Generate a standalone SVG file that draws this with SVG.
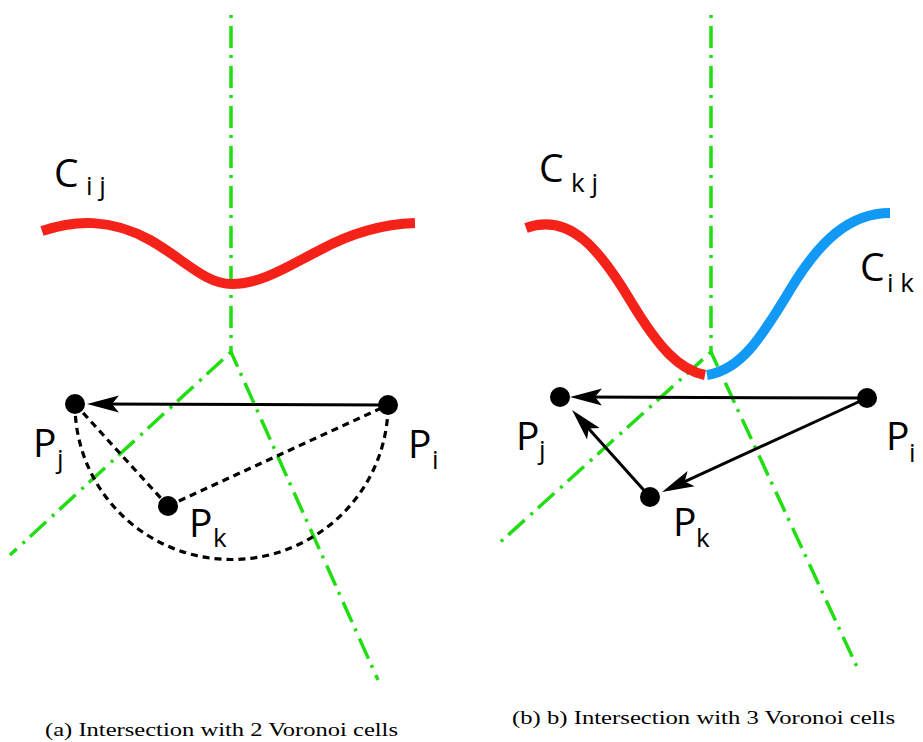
<svg xmlns="http://www.w3.org/2000/svg" width="923" height="742" viewBox="0 0 923 742">
<defs>
<style>
.bg{fill:#ffffff}
.vor{fill:none;stroke:#22dd11;stroke-width:3.5;stroke-dasharray:3 8 22 7}
.red{fill:none;stroke:#f5221a;stroke-width:10}
.blue{fill:none;stroke:#1199f5;stroke-width:10}
.arr{fill:none;stroke:#000;stroke-width:3;marker-end:url(#ah)}
.dsh{fill:none;stroke:#000;stroke-width:3.2;stroke-dasharray:7 5}
.pt{fill:#000}
.lbl{font-family:"Open Sans","DejaVu Sans",sans-serif;font-size:39px;fill:#000}
.sub{font-family:"Open Sans","DejaVu Sans",sans-serif;font-size:26px;fill:#000}
.cap{font-family:"Liberation Serif","DejaVu Serif",serif;font-size:18px;fill:#000}
</style>
<marker id="ah" markerUnits="userSpaceOnUse" markerWidth="40" markerHeight="20" refX="0" refY="0" viewBox="-24 -10 36 20" orient="auto" overflow="visible">
<path d="M10,0 L-22,-8.5 L-15,0 L-22,8.5 Z" fill="#000"/>
</marker>
</defs>
<rect class="bg" x="0" y="0" width="923" height="742"/>

<g id="voronoi-a">
<path class="vor" d="M231,15 V352 L378,680"/>
<path class="vor" d="M231,352 L10,555"/>
</g>
<g id="curve-cij">
<path class="red" d="M42,231 C75,220 110,218 150,240 C185,260 205,284 232,284 C262,284 290,265 320,250 C355,231 385,224 415,223"/>
</g>

<g id="connectors-a">
<path class="dsh" d="M75,404 L168,506"/>
<path class="dsh" d="M168,506 L388,405"/>
<path class="dsh" d="M75,404 A156.5,155 0 0 0 388,405"/>
<path class="arr" d="M388,405 L97,404"/>
</g>

<g id="node-pj-a"><circle class="pt" cx="75" cy="404" r="10"/><text class="lbl" x="33" y="457">P</text><text class="sub" x="57" y="468">j</text></g>
<g id="node-pi-a"><circle class="pt" cx="388" cy="405" r="10"/><text class="lbl" x="408" y="458">P</text><text class="sub" x="432" y="469">i</text></g>
<g id="node-pk-a"><circle class="pt" cx="168" cy="506" r="10"/><text class="lbl" x="189" y="537">P</text><text class="sub" x="213" y="547">k</text></g>
<g id="label-cij"><text class="lbl" x="54" y="187">C</text><text class="sub" x="86" y="195" xml:space="preserve">i j</text></g>

<g id="voronoi-b">
<path class="vor" d="M711,15 V352 L857,667"/>
<path class="vor" d="M711,352 L497,545"/>
</g>
<g id="curve-ckj">
<path class="red" d="M526,228 C570,212 600,250 630,300 C660,350 680,370 705,375"/>
</g>
<g id="curve-cik">
<path class="blue" d="M707,375 C740,370 760,340 790,290 C820,240 850,213 890,213"/>
</g>

<g id="connectors-b">
<path class="arr" d="M867,398 L580,397"/>
<path class="arr" d="M867,398 L671.1,487.8"/>
<path class="arr" d="M650,497 L578.7,417.4"/>
</g>

<g id="node-pj-b"><circle class="pt" cx="560" cy="397" r="10"/><text class="lbl" x="516" y="450">P</text><text class="sub" x="539" y="459">j</text></g>
<g id="node-pi-b"><circle class="pt" cx="867" cy="398" r="10"/><text class="lbl" x="886" y="450">P</text><text class="sub" x="909" y="462">i</text></g>
<g id="node-pk-b"><circle class="pt" cx="650" cy="497" r="10"/><text class="lbl" x="673" y="536">P</text><text class="sub" x="696" y="547">k</text></g>
<g id="label-ckj"><text class="lbl" x="539" y="182">C</text><text class="sub" x="571" y="192" xml:space="preserve">k j</text></g>
<g id="label-cik"><text class="lbl" x="860" y="281">C</text><text class="sub" x="887" y="292" xml:space="preserve">i k</text></g>

<g id="captions">
<text class="cap" x="45" y="736" textLength="353" lengthAdjust="spacingAndGlyphs">(a) Intersection with 2 Voronoi cells</text>
<text class="cap" x="512" y="724" textLength="383" lengthAdjust="spacingAndGlyphs">(b) b) Intersection with 3 Voronoi cells</text>
</g>
</svg>
